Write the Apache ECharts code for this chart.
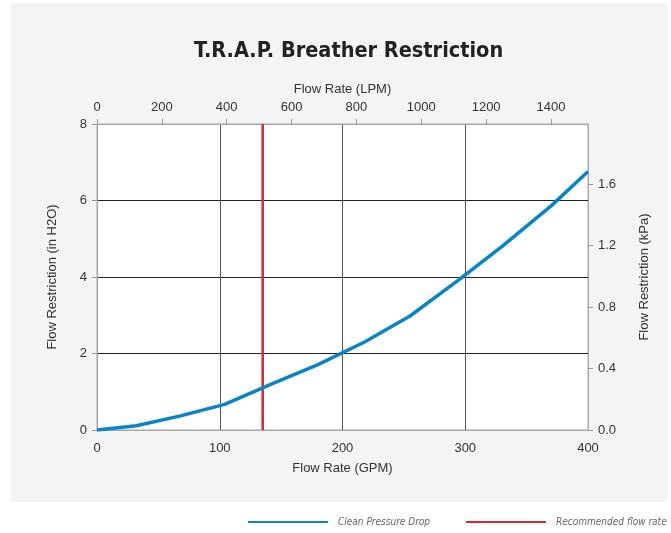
<!DOCTYPE html>
<html>
<head>
<meta charset="utf-8">
<script src="https://cdn.jsdelivr.net/npm/echarts@6/dist/echarts.min.js"></script>
<style>
  html, body { margin: 0; padding: 0; background: #fff; }
  #chart { width: 671px; height: 533px; }
</style>
</head>
<body>
<div id="chart"></div>
<script>
// curve: flow in GPM, restriction in inches of water
var flowGpm = [0, 32, 68, 104, 142, 180, 218, 255, 295, 330, 370, 400];
var restrictionInH2O = [0, 0.11, 0.37, 0.67, 1.2, 1.71, 2.3, 2.98, 3.93, 4.8, 5.86, 6.76];
var recommendedGpm = 135;
var gpmTicks = [0, 100, 200, 300, 400];
var inH2OMax = 8;
var LPM_PER_GPM = 3.78541;
var KPA_PER_INH2O = 0.249089;

var curve = [];
for (var i = 0; i < flowGpm.length; i++) {
  curve.push([flowGpm[i], restrictionInH2O[i]]);
}

var labelFont = { fontFamily: 'Liberation Sans', fontSize: 13, color: '#333' };
var nameFont = { fontFamily: 'Liberation Sans', fontSize: 13, color: '#333' };
var plainNum = function (v) { return String(v); };

var myChart = echarts.init(document.getElementById('chart'));
myChart.setOption({
  backgroundColor: '#fff',
  animation: false,
  title: {
    text: 'T.R.A.P. Breather Restriction',
    left: 189,
    top: 35,
    textStyle: {
      fontFamily: 'Liberation Sans Narrow, DejaVu Sans Condensed, sans-serif',
      fontWeight: 'bold',
      fontSize: 21.5,
      color: '#222'
    }
  },
  graphic: [{
    type: 'rect',
    z: -10,
    shape: { x: 11, y: 3, width: 657, height: 499 },
    style: { fill: '#f4f4f6' }
  }],
  legend: {
    left: 248,
    top: 517,
    padding: 0,
    width: 600,
    icon: 'rect',
    itemWidth: 80,
    itemHeight: 2,
    itemGap: 36,
    textStyle: {
      fontFamily: 'Liberation Sans Narrow, DejaVu Sans Condensed, sans-serif',
      fontStyle: 'italic',
      fontSize: 10,
      color: '#666',
      padding: [0, 0, 0, 5]
    },
    data: ['Clean Pressure Drop', 'Recommended flow rate']
  },
  grid: {
    left: 97,
    right: 83,
    top: 124,
    bottom: 103,
    show: true,
    backgroundColor: '#fff',
    borderColor: '#a8a8a8',
    borderWidth: 1
  },
  xAxis: [
    {
      type: 'value',
      position: 'bottom',
      min: gpmTicks[0],
      max: gpmTicks[gpmTicks.length - 1],
      interval: 100,
      name: 'Flow Rate (GPM)',
      nameLocation: 'middle',
      nameGap: 32,
      nameTextStyle: nameFont,
      axisLine: { show: true, onZero: false, lineStyle: { color: '#a8a8a8' } },
      axisTick: { show: false },
      axisLabel: Object.assign({ margin: 12, formatter: plainNum }, labelFont),
      splitLine: { show: true, showMinLine: false, showMaxLine: false, lineStyle: { color: '#555', width: 1 } }
    },
    {
      type: 'value',
      position: 'top',
      min: 0,
      max: gpmTicks[gpmTicks.length - 1] * LPM_PER_GPM,
      interval: 200,
      name: 'Flow Rate (LPM)',
      nameLocation: 'middle',
      nameGap: 27,
      nameTextStyle: nameFont,
      axisLine: { show: true, onZero: false, lineStyle: { color: '#a8a8a8' } },
      axisTick: { show: true, length: 5, lineStyle: { color: '#999' } },
      axisLabel: Object.assign({ margin: 10, showMaxLabel: false, formatter: plainNum }, labelFont),
      splitLine: { show: false }
    }
  ],
  yAxis: [
    {
      type: 'value',
      position: 'left',
      min: 0,
      max: inH2OMax,
      interval: 2,
      name: 'Flow Restriction (in H2O)',
      nameLocation: 'middle',
      nameGap: 38,
      nameTextStyle: nameFont,
      axisLine: { show: true, onZero: false, lineStyle: { color: '#a8a8a8' } },
      axisTick: { show: true, length: 5, lineStyle: { color: '#999' } },
      axisLabel: Object.assign({ margin: 10, formatter: plainNum }, labelFont),
      splitLine: { show: true, showMinLine: false, showMaxLine: false, lineStyle: { color: '#222', width: 1 } }
    },
    {
      type: 'value',
      position: 'right',
      min: 0,
      max: inH2OMax * KPA_PER_INH2O,
      interval: 0.4,
      name: 'Flow Restriction (kPa)',
      nameLocation: 'middle',
      nameGap: 50,
      nameTextStyle: nameFont,
      axisLine: { show: true, onZero: false, lineStyle: { color: '#a8a8a8' } },
      axisTick: { show: true, length: 5, lineStyle: { color: '#999' } },
      axisLabel: Object.assign({
        margin: 10,
        showMaxLabel: false,
        formatter: function (v) { return v.toFixed(1); }
      }, labelFont),
      splitLine: { show: false }
    }
  ],
  series: [
    {
      name: 'Clean Pressure Drop',
      type: 'line',
      xAxisIndex: 0,
      yAxisIndex: 0,
      symbol: 'none',
      color: '#0a84c8',
      lineStyle: { width: 3.5, color: '#0a84c8' },
      data: curve,
      z: 5
    },
    {
      name: 'Recommended flow rate',
      type: 'line',
      xAxisIndex: 0,
      yAxisIndex: 0,
      symbol: 'none',
      color: '#d9262e',
      lineStyle: { width: 2.5, color: '#d9262e' },
      data: [[recommendedGpm, 0], [recommendedGpm, inH2OMax]],
      z: 4
    }
  ]
});
</script>
</body>
</html>
